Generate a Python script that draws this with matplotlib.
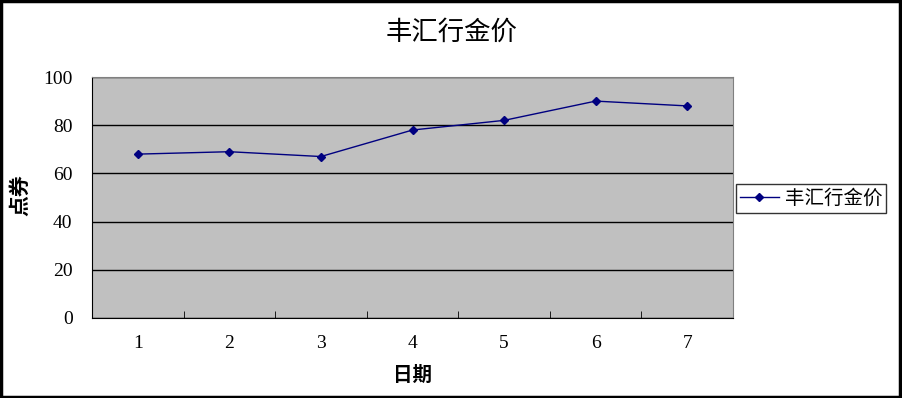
import matplotlib.pyplot as plt
from matplotlib.patches import Rectangle

plt.rcParams['font.family'] = ['Noto Sans CJK SC', 'DejaVu Sans']

days = [1, 2, 3, 4, 5, 6, 7]
price = [68, 69, 67, 78, 82, 90, 88]
yticks = [0, 20, 40, 60, 80, 100]

fig = plt.figure(figsize=(9.02, 3.98), dpi=100)
ax = fig.add_axes([92 / 902, 1 - 318 / 398, 641 / 902, 241 / 398])
ax.set_facecolor('#C0C0C0')

line, = ax.plot(days, price, color='#000080', marker='D', markersize=4.5,
                linewidth=1, label='丰汇行金价')

ax.set_xlim(0.5, 7.5)
ax.set_ylim(0, 100)
ax.set_yticks(yticks)
ax.set_yticklabels([str(v) for v in yticks], family='Liberation Serif', fontsize=14)
ax.set_xticks(days)
ax.set_xticklabels([str(d) for d in days], family='Liberation Serif', fontsize=14)
ax.set_xticks([d + 0.5 for d in days[:-1]], minor=True)
ax.tick_params(axis='x', which='major', length=0, pad=12)
ax.tick_params(axis='x', which='minor', direction='in', length=5, color='black')
ax.tick_params(axis='y', length=0, pad=14)
ax.grid(axis='y', color='black', linewidth=1)
ax.set_axisbelow(True)
for s in ['top', 'right']:
    ax.spines[s].set_color('#808080')
for s in ['left', 'bottom']:
    ax.spines[s].set_color('black')

fig.text(452 / 902, 1 - 32 / 398, '丰汇行金价', ha='center', va='center', fontsize=19)
fig.text(412 / 902, 1 - 375 / 398, '日期', ha='center', va='center',
         fontsize=14, fontweight='bold')
fig.text(20 / 902, 1 - 195 / 398, '点券', ha='center', va='center',
         fontsize=15, fontweight='bold', rotation=90)

leg = fig.legend(handles=[line], loc='center left',
                 bbox_to_anchor=(736 / 902, 1 - 198.5 / 398),
                 fontsize=14, frameon=True, fancybox=False,
                 handlelength=2.0, handletextpad=0.3, borderpad=0.2,
                 borderaxespad=0)
leg.get_frame().set_edgecolor('black')
leg.get_frame().set_linewidth(1)

fig.patches.append(Rectangle((0.001, 0.003), 0.997, 0.995, transform=fig.transFigure,
                             fill=False, edgecolor='black', linewidth=2.5))

fig.savefig('out.png', dpi=100)
